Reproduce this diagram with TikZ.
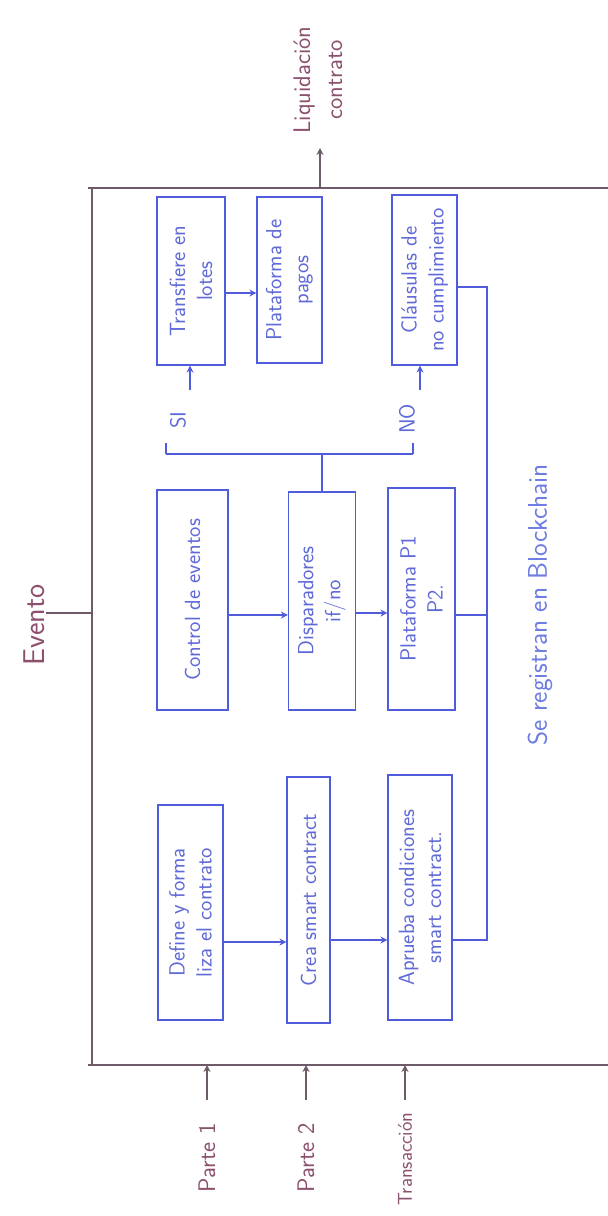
\documentclass[tikz,border=0pt]{standalone}
\usepackage{fontspec}
\usetikzlibrary{arrows.meta}
\definecolor{boxblue}{RGB}{80,92,220}
\definecolor{txtblue}{RGB}{95,105,215}
\definecolor{lightblue}{RGB}{110,125,225}
\definecolor{frame}{RGB}{110,90,105}
\definecolor{outtxt}{RGB}{140,80,110}
\tikzset{
  x=1pt, y=1pt,
  box/.style={draw=boxblue, line width=1.1pt, rotate=90, align=center, text=txtblue,
    font=\sffamily\fontsize{22}{27}\selectfont, inner sep=1pt},
  lnk/.style={draw=boxblue, line width=1.1pt},
  arr/.style={lnk, -{Stealth[length=7pt,width=7pt]}},
  frm/.style={draw=frame, line width=1.1pt},
  farr/.style={frm, -{Stealth[length=7pt,width=7pt]}},
  outlbl/.style={rotate=90, text=outtxt, align=center, font=\sffamily\fontsize{24}{32}\selectfont, inner sep=1pt},
  blulbl/.style={rotate=90, text=txtblue, align=center, font=\sffamily\fontsize{22}{26}\selectfont, inner sep=1pt}
}
\begin{document}
\begin{tikzpicture}
\useasboundingbox (0,0) rectangle (608,-1216);
\fill[white] (0,0) rectangle (608,-1216);

% outer frame
\coordinate (ftl) at (92,-188);
\coordinate (fbl) at (92,-1065);
\draw[frm] (88,-188) -- (608,-188);
\draw[frm] (ftl) -- (fbl);
\draw[frm] (88,-1065) -- (608,-1065);

% boxes
\node[box, minimum width=215, minimum height=65] (A) at (190.5,-912.5) {Define y forma\\liza el contrato};
\node[box, minimum width=246, minimum height=43] (B) at (308.5,-900) {Crea smart contract};
\node[box, minimum width=245, minimum height=64] (C) at (420,-897.5) {Aprueba condiciones\\smart contract.};
\node[box, minimum width=220, minimum height=71] (D) at (192.5,-600) {Control de eventos};
\node[box, minimum width=218, minimum height=67] (E) at (322,-601) {Disparadores\\if/no};
\node[box, minimum width=222, minimum height=67] (F) at (421.5,-599) {Plataforma P1\\P2.};
\node[box, minimum width=168, minimum height=68] (G) at (191,-281) {Transfiere en\\lotes};
\node[box, minimum width=166, minimum height=65] (H) at (289.5,-280) {Plataforma de\\pagos};
\node[box, minimum width=170, minimum height=65] (I) at (424.5,-280) {Cláusulas de\\no cumplimiento};

% helper levels
\coordinate (yab) at (0,-942);
\coordinate (ybc) at (0,-940);
\coordinate (yde) at (0,-615);
\coordinate (yef) at (0,-613);
\coordinate (ygh) at (0,-293);
\coordinate (yev) at (0,-613);
\coordinate (xsi) at (190,0);
\coordinate (xno) at (420,0);
\coordinate (busTop) at (487,-287);
\coordinate (jL) at (166,-454);
\coordinate (jR) at (413,-454);

% flow arrows
\draw[arr] (A.south |- yab) -- (B.north |- yab);
\draw[arr] (B.south |- ybc) -- (C.north |- ybc);
\draw[arr] (D.south |- yde) -- (E.north |- yde);
\draw[arr] (E.south |- yef) -- (F.north |- yef);
\draw[arr] (G.south |- ygh) -- (H.north |- ygh);

% blockchain bus
\draw[lnk] (C.south |- ybc) -| (busTop) -- (I.south |- busTop);
\draw[lnk] (F.south |- yde) -- (busTop |- yde);

% decision
\draw[lnk] (E.east) -- (E.east |- jL);
\draw[lnk] (jL) -- (jR);
\node[blulbl] (si) at (178,-420) {SI};
\node[blulbl] (no) at (407,-419) {NO};
\draw[lnk] (jL) -- ++(0,11);
\draw[lnk] (jR) -- ++(0,11);
\draw[arr] (xsi |- 0,-390) -- (xsi |- G.west);
\draw[arr] (xno |- 0,-390) -- (xno |- I.west);

\node[blulbl, text=lightblue, font=\sffamily\fontsize{27}{30}\selectfont] (bc) at (540,-605) {Se registran en Blockchain};

% outer labels
\node[outlbl, font=\sffamily\fontsize{30}{34}\selectfont] (ev) at (34,-625) {Evento};
\draw[frm] (ftl |- yev) -- (ev.south |- yev);

\node[outlbl] (liq) at (318,-80) {Liquidación\\contrato};
\draw[farr] (320,-188) -- (320,-148);

\node[outlbl] (p1) at (207,-1158) {Parte 1};
\node[outlbl] (p2) at (306,-1158) {Parte 2};
\node[outlbl, font=\sffamily\fontsize{20}{24}\selectfont] (tr) at (405,-1159) {Transacción};
\draw[farr] (207,-1100) -- (207,-1065);
\draw[farr] (306,-1100) -- (306,-1065);
\draw[farr] (405,-1100) -- (405,-1065);
\end{tikzpicture}
\end{document}
